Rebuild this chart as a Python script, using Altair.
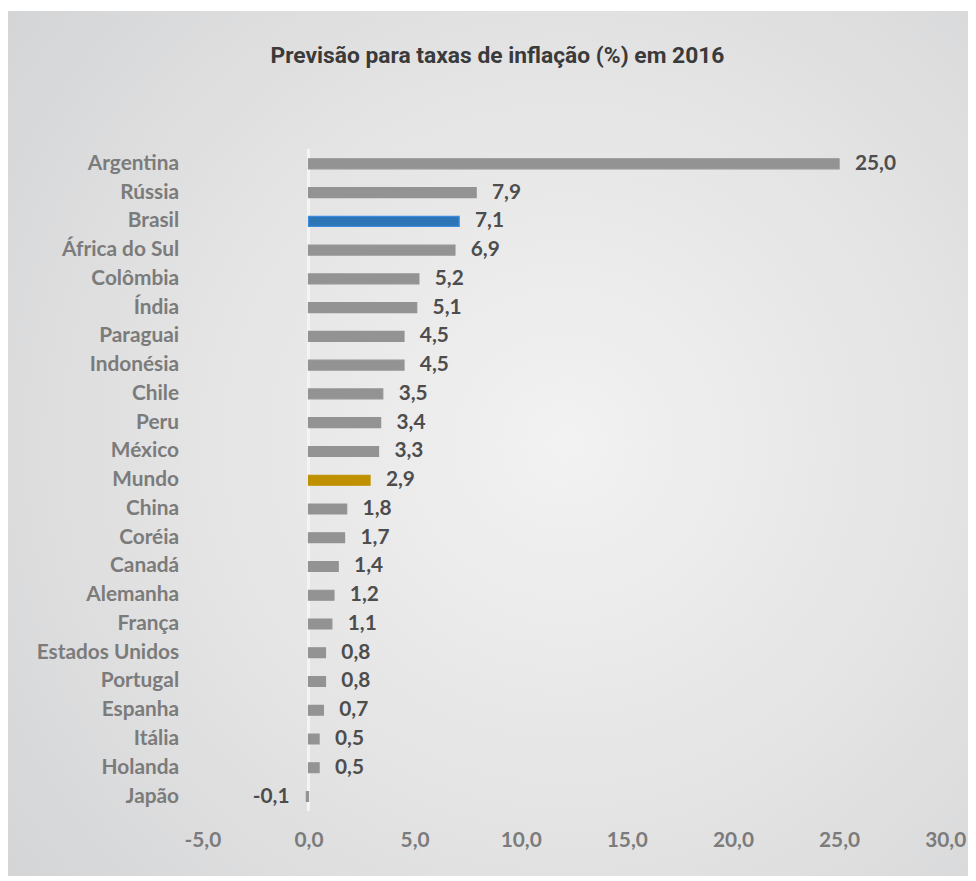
import altair as alt
import pandas as pd

countries = ["Argentina", "Rússia", "Brasil", "África do Sul", "Colômbia", "Índia\u00a0",
             "Paraguai", "Indonésia", "Chile", "Peru", "México", "Mundo", "China",
             "Coréia", "Canadá", "Alemanha", "França", "Estados Unidos", "Portugal",
             "Espanha", "Itália", "Holanda", "Japão"]
values = [25.0, 7.9, 7.1, 6.9, 5.2, 5.1, 4.5, 4.5, 3.5, 3.4, 3.3, 2.9, 1.8,
          1.7, 1.4, 1.2, 1.1, 0.8, 0.8, 0.7, 0.5, 0.5, -0.1]
x_ticks = [-5, 0, 5, 10, 15, 20, 25, 30]

GRAY = "#939393"
fills = {"Brasil": "#2e75b6", "Mundo": "#bf9000"}
strokes = {"Brasil": "#3a8be0", "Mundo": "#bf9000"}

df = pd.DataFrame({"pais": countries, "valor": values})
df["cor"] = [fills.get(c, GRAY) for c in countries]
df["borda"] = [strokes.get(c, GRAY) for c in countries]
df["rotulo"] = [f"{v:.1f}".replace(".", ",") for v in values]

FONT = "Lato"
FS = 21
W, H = 749, 667

xscale = alt.Scale(domain=[-5, 30], nice=False, zero=False)
yscale = alt.Scale(paddingOuter=0, paddingInner=0)

bg = alt.Chart(df).mark_rect(
    fill=alt.RadialGradient(
        gradient="radial",
        stops=[alt.GradientStop(color="#f2f2f2", offset=0),
               alt.GradientStop(color="#e3e3e4", offset=0.55),
               alt.GradientStop(color="#d3d4d5", offset=1)],
        x1=0.58, y1=0.5, r1=0, x2=0.58, y2=0.5, r2=0.75,
    )
).encode(
    x=alt.value(-196), x2=alt.value(772),
    y=alt.value(-139), y2=alt.value(732),
)

zero = alt.Chart(df).mark_rule(color="#f4f4f4", strokeWidth=2).encode(
    x=alt.datum(0, scale=xscale)
)

bars = alt.Chart(df).mark_bar(size=10, strokeWidth=1.2).encode(
    x=alt.X("valor:Q", scale=xscale,
            axis=alt.Axis(values=x_ticks, title=None, grid=False, domain=False,
                          ticks=False, labelFont=FONT, labelFontSize=FS,
                          labelFontWeight="bold", labelColor="#7b7b7b",
                          labelPadding=19, labelFlush=False, zindex=1,
                          labelExpr="replace(replace(format(datum.value, '.1f'), '.', ','), '\u2212', '-')")),
    y=alt.Y("pais:N", sort=countries, scale=yscale,
            axis=alt.Axis(title=None, domain=False, ticks=False, grid=False,
                          labelFont=FONT, labelFontSize=FS, labelFontWeight="bold",
                          labelColor="#7b7b7b", labelPadding=24, zindex=1)),
    fill=alt.Fill("cor:N", scale=None),
    stroke=alt.Stroke("borda:N", scale=None),
)

pos_text = alt.Chart(df).transform_filter("datum.valor >= 0").mark_text(
    align="left", baseline="middle", dx=16, font=FONT, fontSize=FS,
    fontWeight="bold", color="#4d4d4d"
).encode(x=alt.X("valor:Q", scale=xscale), y=alt.Y("pais:N", sort=countries, scale=yscale),
         text="rotulo:N")

neg_text = alt.Chart(df).transform_filter("datum.valor < 0").mark_text(
    align="right", baseline="middle", dx=-17, font=FONT, fontSize=FS,
    fontWeight="bold", color="#4d4d4d"
).encode(x=alt.X("valor:Q", scale=xscale), y=alt.Y("pais:N", sort=countries, scale=yscale),
         text="rotulo:N")

chart = alt.layer(bg, zero, bars, pos_text, neg_text).properties(
    width=W, height=H,
    title=alt.TitleParams(
        "Previsão para taxas de inflação (%) em 2016",
        font="Roboto", fontSize=23, fontWeight="bold", color="#3a3a3a",
        anchor="middle", dx=-77, offset=-75, baseline="alphabetic",
    ),
).configure(padding=0).configure_view(stroke=None)

chart.save("out.html", embed_options={"renderer": "svg", "actions": False})
